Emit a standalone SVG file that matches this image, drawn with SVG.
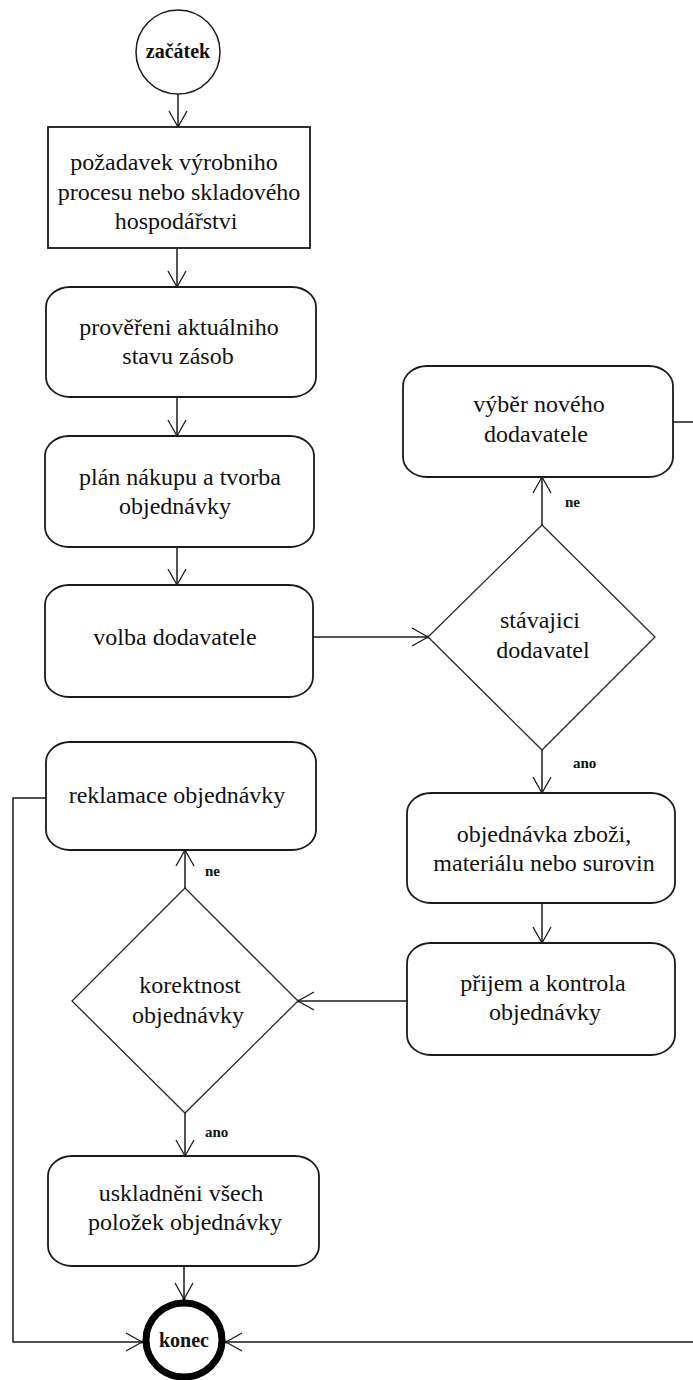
<svg xmlns="http://www.w3.org/2000/svg" width="693" height="1380" viewBox="0 0 693 1380">
  <defs>
    <!-- open V arrowhead -->
    <marker id="arr" viewBox="-18 -11 20 22" markerWidth="20" markerHeight="22" refX="0" refY="0" orient="auto" markerUnits="userSpaceOnUse">
      <path d="M-16,-9 L0,0 L-16,9" fill="none" stroke="#1a1a1a" stroke-width="1.3"/>
      <circle cx="0" cy="0" r="1.6" fill="#1a1a1a"/>
    </marker>
    <style>
      .box { fill: #fff; stroke: #1a1a1a; stroke-width: 1.8; }
      .dia { fill: #fff; stroke: #2a2a2a; stroke-width: 1.3; }
      .lbl { font-family: "Liberation Serif", "Times New Roman", serif; font-size: 24px; fill: #111; text-anchor: middle; }
      .small { font-family: "Liberation Serif", "Times New Roman", serif; font-size: 15px; font-weight: bold; fill: #111; }
      .term { font-family: "Liberation Serif", "Times New Roman", serif; font-size: 20px; font-weight: bold; fill: #111; text-anchor: middle; }
      .conn { fill: none; stroke: #1a1a1a; stroke-width: 1.5; }
    </style>
  </defs>

  <rect width="693" height="1380" fill="#fff"/>

  <!-- connectors -->
  <g id="connectors">
    <path class="conn" d="M178,94 V127" marker-end="url(#arr)"/>
    <path class="conn" d="M177,248 V287" marker-end="url(#arr)"/>
    <path class="conn" d="M177,397 V436" marker-end="url(#arr)"/>
    <path class="conn" d="M177,547 V585" marker-end="url(#arr)"/>
    <path class="conn" d="M313,637 H428" marker-end="url(#arr)"/>
    <path class="conn" d="M542,525 V477" marker-end="url(#arr)"/>
    <path class="conn" d="M542,750 V793" marker-end="url(#arr)"/>
    <path class="conn" d="M542,903 V943" marker-end="url(#arr)"/>
    <path class="conn" d="M407,1001 H298" marker-end="url(#arr)"/>
    <path class="conn" d="M185,888 V850" marker-end="url(#arr)"/>
    <path class="conn" d="M185,1113 V1156" marker-end="url(#arr)"/>
    <path class="conn" d="M184,1266 V1299" marker-end="url(#arr)"/>
    <path class="conn" d="M46,798 H13 V1342 H142" marker-end="url(#arr)"/>
    <path class="conn" d="M673,422 H702 V1342 H226" marker-end="url(#arr)"/>
    <text class="small" x="565" y="507">ne</text>
    <text class="small" x="573" y="768">ano</text>
    <text class="small" x="205" y="876">ne</text>
    <text class="small" x="205" y="1137">ano</text>
  </g>

  <g id="start">
    <circle cx="178" cy="52" r="42" fill="#fff" stroke="#1a1a1a" stroke-width="1.5"/>
    <text class="term" x="178" y="58">začátek</text>
  </g>

  <g id="pozadavek">
    <rect class="box" x="48" y="127" width="262" height="121"/>
    <text class="lbl" x="174" y="170">požadavek výrobniho</text>
    <text class="lbl" x="179" y="200">procesu nebo skladového</text>
    <text class="lbl" x="176" y="229">hospodářstvi</text>
  </g>

  <g id="provereni">
    <rect class="box" x="46" y="287" width="270" height="110" rx="24" ry="20"/>
    <text class="lbl" x="179" y="335">prověřeni aktuálniho</text>
    <text class="lbl" x="178" y="364">stavu zásob</text>
  </g>

  <g id="plan">
    <rect class="box" x="45" y="436" width="269" height="111" rx="24" ry="20"/>
    <text class="lbl" x="180" y="485">plán nákupu a tvorba</text>
    <text class="lbl" x="175" y="514">objednávky</text>
  </g>

  <g id="volba">
    <rect class="box" x="45" y="585" width="268" height="112" rx="24" ry="20"/>
    <text class="lbl" x="175" y="645">volba dodavatele</text>
  </g>

  <g id="stavajici">
    <polygon class="dia" points="542,525 655,637 542,750 428,637"/>
    <text class="lbl" x="540" y="628">stávajici</text>
    <text class="lbl" x="543" y="658">dodavatel</text>
  </g>

  <g id="vyber">
    <rect class="box" x="403" y="366" width="270" height="111" rx="24" ry="20"/>
    <text class="lbl" x="539" y="412">výběr nového</text>
    <text class="lbl" x="536" y="442">dodavatele</text>
  </g>

  <g id="objednavka">
    <rect class="box" x="407" y="793" width="268" height="110" rx="24" ry="20"/>
    <text class="lbl" x="544" y="842">objednávka zboži,</text>
    <text class="lbl" x="544" y="871">materiálu nebo surovin</text>
  </g>

  <g id="prijem">
    <rect class="box" x="407" y="943" width="268" height="112" rx="24" ry="20"/>
    <text class="lbl" x="543" y="991">přijem a kontrola</text>
    <text class="lbl" x="545" y="1020">objednávky</text>
  </g>

  <g id="korektnost">
    <polygon class="dia" points="185,888 298,1001 185,1113 72,1001"/>
    <text class="lbl" x="190" y="993">korektnost</text>
    <text class="lbl" x="188" y="1023">objednávky</text>
  </g>

  <g id="reklamace">
    <rect class="box" x="46" y="742" width="270" height="108" rx="24" ry="20"/>
    <text class="lbl" x="177" y="803">reklamace objednávky</text>
  </g>

  <g id="uskladneni">
    <rect class="box" x="48" y="1156" width="271" height="110" rx="24" ry="20"/>
    <text class="lbl" x="181" y="1201">uskladněni všech</text>
    <text class="lbl" x="185" y="1230">položek objednávky</text>
  </g>

  <g id="konec">
    <ellipse cx="184" cy="1340" rx="38" ry="37" fill="#fff" stroke="#000" stroke-width="7"/>
    <text class="term" x="184" y="1347">konec</text>
  </g>
</svg>
